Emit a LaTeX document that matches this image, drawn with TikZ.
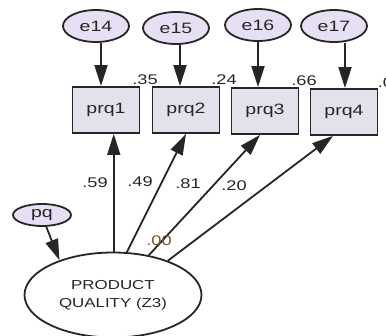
\documentclass[tikz,border=0pt]{standalone}
\usepackage{fontspec}
\setmainfont{Liberation Sans}[FakeStretch=1.3]
\usepackage{tikz}
\usetikzlibrary{arrows.meta}
\usetikzlibrary{shapes.geometric}

\definecolor{errfill}{RGB}{231,223,243}
\definecolor{boxfill}{RGB}{228,224,236}
\definecolor{zerocol}{RGB}{120,85,45}

\tikzset{
    errvar/.style={ellipse, draw, fill=errfill, minimum width=66pt, minimum height=32pt, inner sep=0pt, font=\fontsize{15}{17}\selectfont},
    obsvar/.style={rectangle, draw, fill=boxfill, minimum width=67pt, minimum height=46pt, inner sep=0pt, font=\fontsize{15}{17}\selectfont},
    latvar/.style={ellipse, draw, fill=white, minimum width=177pt, minimum height=85pt, inner sep=0pt, align=center, font=\fontsize{13}{18}\selectfont},
    estlabel/.style={inner sep=0pt, font=\fontsize{14}{16}\selectfont},
    effect/.style={draw, -{Triangle[length=21pt, width=13pt]}}
}

\begin{document}
\begin{tikzpicture}[x=1pt, y=-1pt, line width=1.8pt, color=black!85]
    \useasboundingbox (0, 0) rectangle (386, 336);

    % draw error terms
    \node[errvar] (e14) at (96, 26) {e14};
    \node[errvar] (e15) at (176, 28) {e15};
    \node[errvar] (e16) at (258, 25) {e16};
    \node[errvar] (e17) at (334, 26) {e17};

    % draw observed items
    \node[obsvar] (prq1) at (106, 110) {prq1};
    \node[obsvar] (prq2) at (186, 110) {prq2};
    \node[obsvar] (prq3) at (265, 111) {prq3};
    \node[obsvar] (prq4) at (344, 112) {prq4};

    % draw latent factor and its residual
    \node[latvar] (pq3) at (113, 295) {PRODUCT\\QUALITY (Z3)};
    \node[errvar, minimum width=58pt, minimum height=22pt] (pq) at (42, 215) {pq};

    % error arrows
    \draw[effect] ([xshift=5pt]e14.south) -- ([xshift=-5pt]prq1.north);
    \draw[effect] ([xshift=4pt]e15.south) -- ([xshift=-6pt]prq2.north);
    \draw[effect] (e16.south) -- ([xshift=-7pt]prq3.north);
    \draw[effect] ([xshift=11pt]e17.south) -- ([xshift=1pt]prq4.north);
    \draw[effect] (pq.-70) -- (pq3.147);

    % loadings
    \draw[effect] (pq3.89) -- (pq3.89 |- prq1.south);
    \draw[effect] (pq3.72) -- (prq2.south);
    \draw[effect] (pq3.48) -- ([xshift=-5pt]prq3.south);
    \draw[effect] (pq3.32) -- ([xshift=-11pt]prq4.south);

    % squared multiple correlations
    \node[estlabel] (r1) at (145, 80) {.35};
    \node[estlabel] (r2) at (224, 80) {.24};
    \node[estlabel] (r3) at (304, 81) {.66};
    \node[estlabel, anchor=west] (r4) at (377, 83) {.04};

    % standardized weights
    \node[estlabel] (w1) at (95, 183) {.59};
    \node[estlabel] (w2) at (140, 182) {.49};
    \node[estlabel] (w3) at (188, 184) {.81};
    \node[estlabel] (w4) at (234, 186) {.20};
    \node[estlabel, text=zerocol] (w0) at (159, 241) {.00};
\end{tikzpicture}
\end{document}
